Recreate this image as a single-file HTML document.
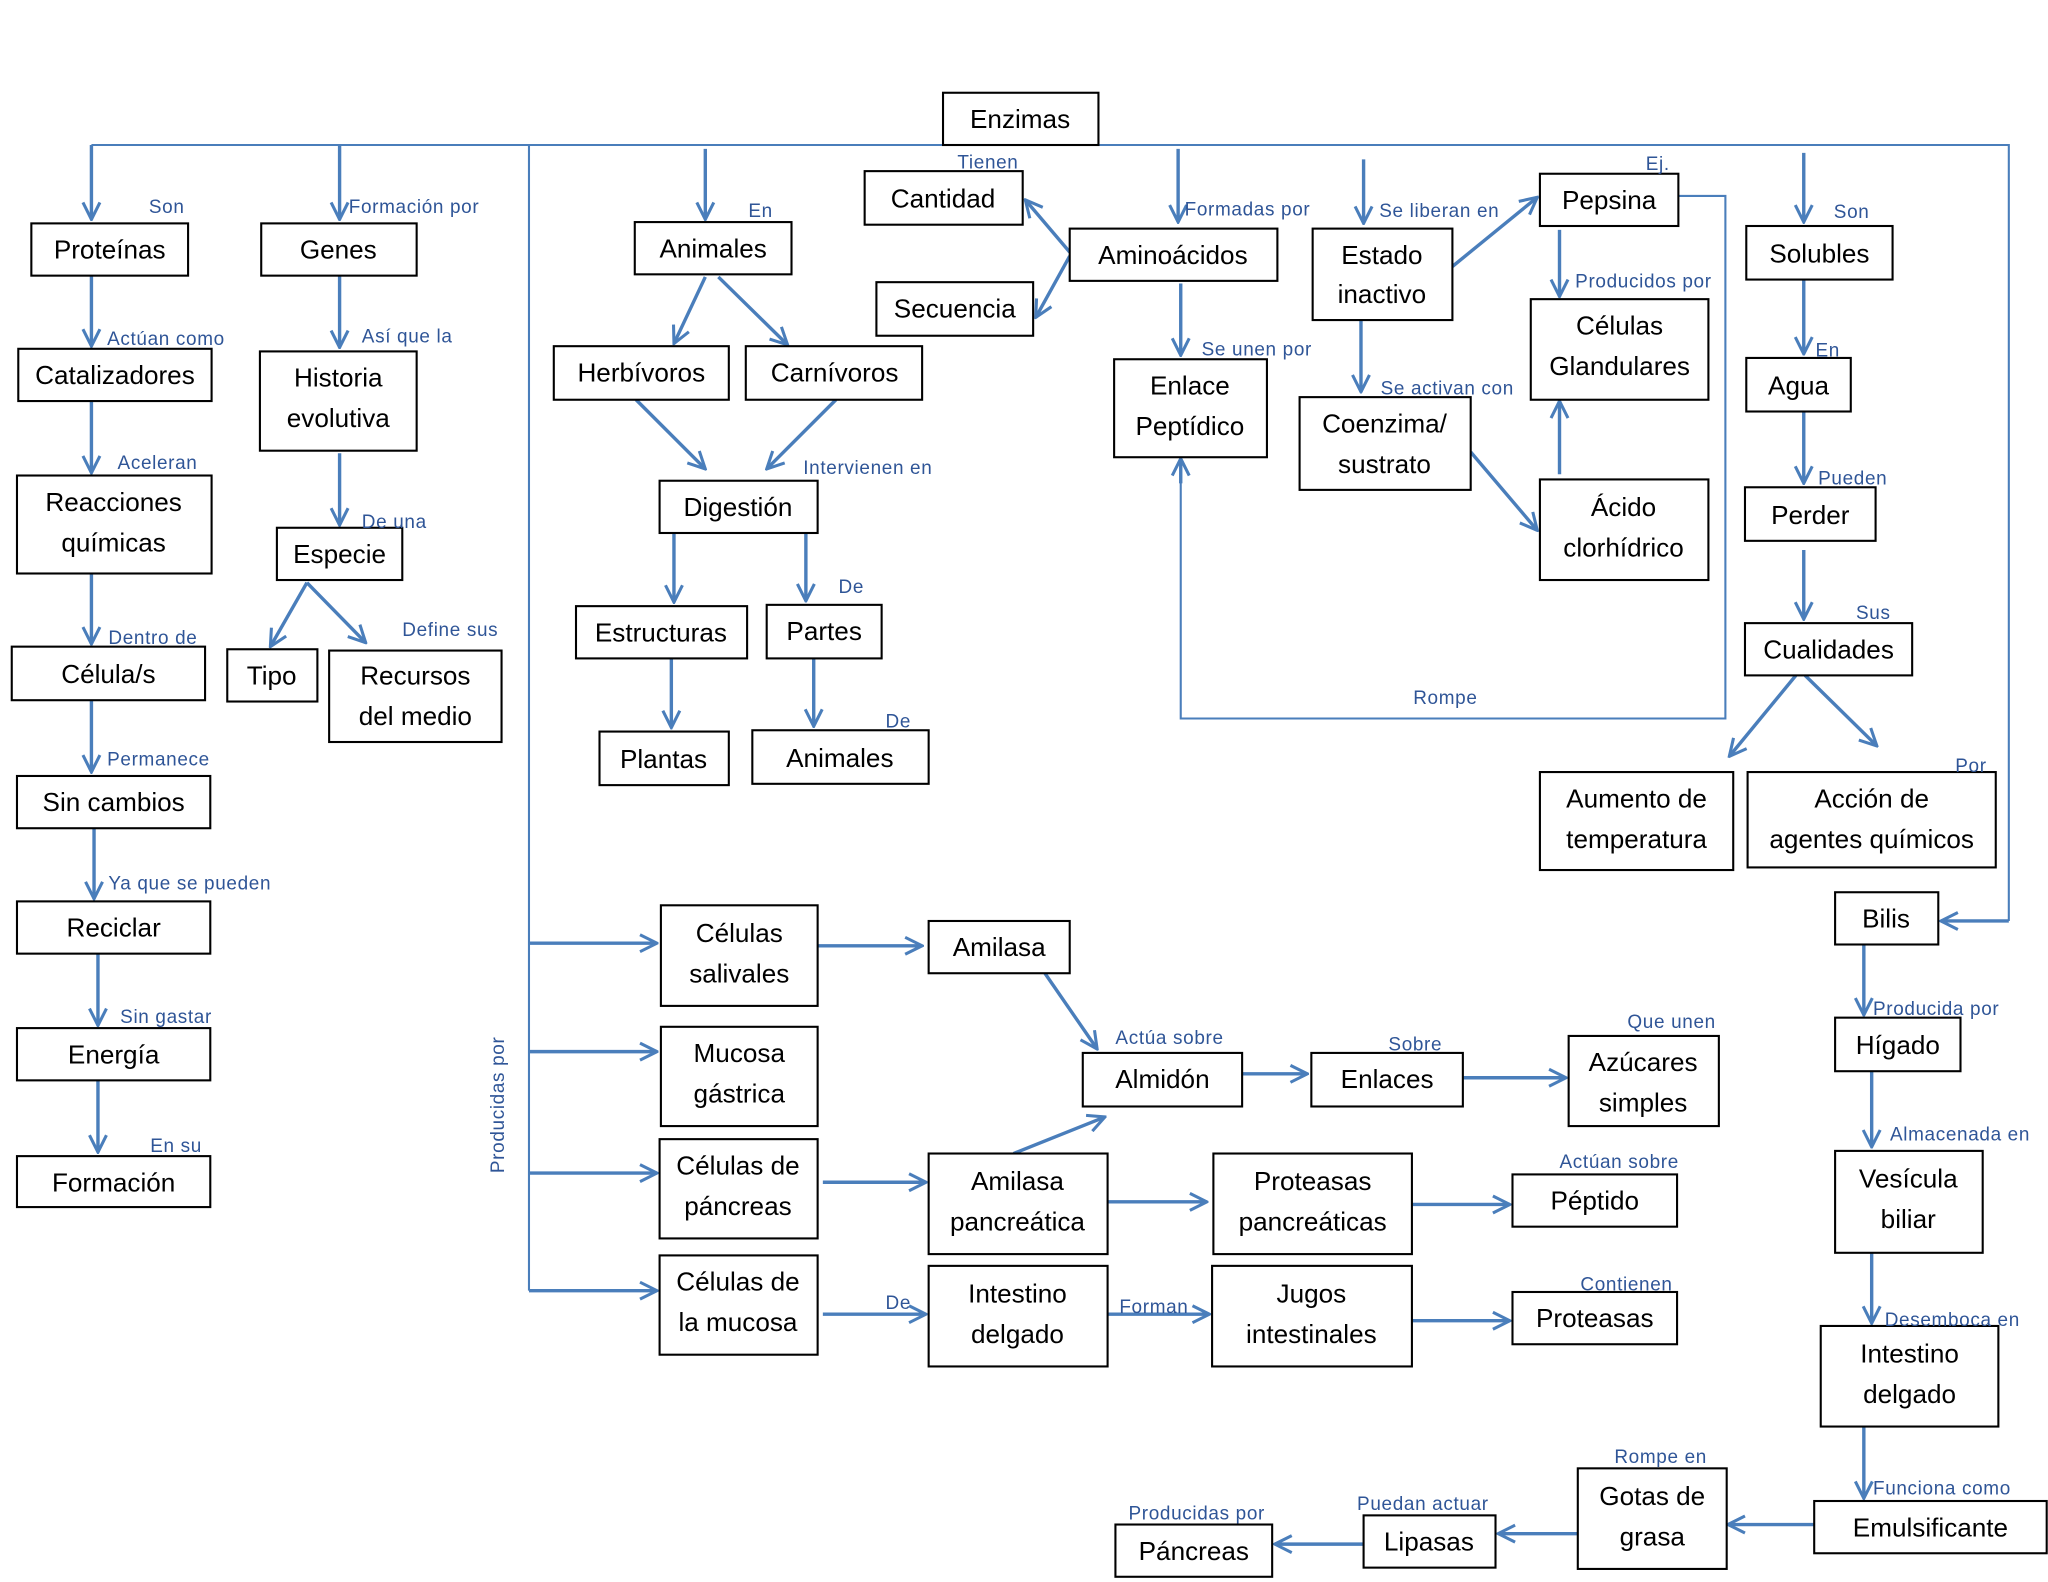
<!DOCTYPE html>
<html><head><meta charset="utf-8"><style>
html,body{margin:0;padding:0;background:#fff;}
svg{display:block;}
.b{fill:#fff;stroke:#000;stroke-width:1.6;}
.t{font-family:"Liberation Sans",sans-serif;font-size:20px;fill:#000;text-anchor:middle;}
.l{font-family:"Liberation Sans",sans-serif;font-size:14.5px;fill:#2f5597;letter-spacing:0.5px;}
.a{stroke:#4a7ebb;stroke-width:2.6;fill:none;marker-end:url(#m);}
.n{stroke:#4a7ebb;stroke-width:1.6;fill:none;}
</style></head><body>
<svg width="2048" height="1582" viewBox="0 0 1568 1211" preserveAspectRatio="none" xmlns="http://www.w3.org/2000/svg">
<defs><marker id="m" viewBox="0 0 12 12" refX="11" refY="6" markerWidth="6" markerHeight="6" orient="auto" markerUnits="strokeWidth"><polyline points="1,1 11,6 1,11" fill="none" stroke="#4a7ebb" stroke-width="1.8"/></marker></defs>

<!-- main lines -->
<polyline class="n" points="70,111 722,111"/>
<polyline class="n" points="841,111 1538,111 1538,705"/>
<line class="a" x1="1538" y1="705" x2="1486" y2="705"/>
<line class="a" x1="70" y1="111" x2="70" y2="168"/>
<line class="a" x1="260" y1="111" x2="260" y2="168"/>
<polyline class="n" points="405,111 405,988"/>
<line class="a" x1="540" y1="114" x2="540" y2="168"/>
<line class="a" x1="902" y1="114" x2="902" y2="170"/>
<line class="a" x1="1044" y1="122" x2="1044" y2="171"/>
<line class="a" x1="1381" y1="117" x2="1381" y2="170"/>

<!-- left column -->
<line class="a" x1="70" y1="211" x2="70" y2="265"/>
<line class="a" x1="260" y1="211" x2="260" y2="266"/>
<line class="a" x1="70" y1="307" x2="70" y2="362"/>
<line class="a" x1="260" y1="347" x2="260" y2="402"/>
<line class="a" x1="70" y1="439" x2="70" y2="493"/>
<line class="a" x1="235" y1="446" x2="207" y2="495"/>
<line class="a" x1="235" y1="446" x2="280" y2="492"/>
<line class="a" x1="70" y1="536" x2="70" y2="591"/>
<line class="a" x1="72" y1="634" x2="72" y2="688"/>
<line class="a" x1="75" y1="730" x2="75" y2="785"/>
<line class="a" x1="75" y1="827" x2="75" y2="882"/>

<!-- animales -->
<line class="a" x1="540" y1="212" x2="516" y2="263"/>
<line class="a" x1="550" y1="212" x2="603" y2="264"/>
<line class="a" x1="487" y1="306" x2="540" y2="359"/>
<line class="a" x1="640" y1="306" x2="587" y2="359"/>
<line class="a" x1="516" y1="408" x2="516" y2="461"/>
<line class="a" x1="617" y1="408" x2="617" y2="460"/>
<line class="a" x1="514" y1="504" x2="514" y2="557"/>
<line class="a" x1="623" y1="504" x2="623" y2="556"/>

<!-- aminoacidos -->
<line class="a" x1="819" y1="193" x2="785" y2="153"/>
<line class="a" x1="819" y1="196" x2="793" y2="243"/>
<line class="a" x1="904" y1="217" x2="904" y2="272"/>
<line class="a" x1="1112" y1="204" x2="1177" y2="151"/>
<line class="a" x1="1042" y1="245" x2="1042" y2="300"/>
<line class="a" x1="1194" y1="176" x2="1194" y2="227"/>
<line class="a" x1="1194" y1="363" x2="1194" y2="307"/>
<line class="a" x1="1126" y1="346" x2="1177" y2="406"/>
<polyline class="n" points="1285,150 1321,150 1321,550 904,550 904,360"/>
<line class="a" x1="904" y1="370" x2="904" y2="351"/>

<!-- right column -->
<line class="a" x1="1381" y1="214" x2="1381" y2="271"/>
<line class="a" x1="1381" y1="315" x2="1381" y2="370"/>
<line class="a" x1="1381" y1="421" x2="1381" y2="474"/>
<line class="a" x1="1375" y1="517" x2="1324" y2="579"/>
<line class="a" x1="1382" y1="517" x2="1437" y2="571"/>
<line class="a" x1="1427" y1="723" x2="1427" y2="777"/>
<line class="a" x1="1433" y1="820" x2="1433" y2="878"/>
<line class="a" x1="1433" y1="959" x2="1433" y2="1013"/>
<line class="a" x1="1427" y1="1092" x2="1427" y2="1147"/>
<line class="a" x1="1389" y1="1167" x2="1323" y2="1167"/>
<line class="a" x1="1208" y1="1174" x2="1147" y2="1174"/>
<line class="a" x1="1044" y1="1182" x2="976" y2="1182"/>

<!-- bottom middle -->
<line class="a" x1="405" y1="722" x2="503" y2="722"/>
<line class="a" x1="405" y1="805" x2="503" y2="805"/>
<line class="a" x1="405" y1="898" x2="503" y2="898"/>
<line class="a" x1="405" y1="988" x2="503" y2="988"/>
<line class="a" x1="626" y1="724" x2="706" y2="724"/>
<line class="a" x1="800" y1="745" x2="840" y2="803"/>
<line class="a" x1="951" y1="822" x2="1001" y2="822"/>
<line class="a" x1="1120" y1="825" x2="1199" y2="825"/>
<line class="a" x1="630" y1="905" x2="709" y2="905"/>
<line class="a" x1="776" y1="883" x2="846" y2="855"/>
<line class="a" x1="848" y1="920" x2="924" y2="920"/>
<line class="a" x1="1081" y1="922" x2="1156" y2="922"/>
<line class="a" x1="630" y1="1006" x2="709" y2="1006"/>
<line class="a" x1="848" y1="1006" x2="926" y2="1006"/>
<line class="a" x1="1081" y1="1011" x2="1156" y2="1011"/>

<!-- boxes -->
<rect class="b" x="722" y="71" width="119" height="40"/><text class="t" x="781" y="98">Enzimas</text>
<rect class="b" x="24" y="171" width="120" height="40"/><text class="t" x="84" y="198">Proteínas</text>
<rect class="b" x="200" y="171" width="119" height="40"/><text class="t" x="259" y="198">Genes</text>
<rect class="b" x="14" y="267" width="148" height="40"/><text class="t" x="88" y="294">Catalizadores</text>
<rect class="b" x="199" y="269" width="120" height="76"/><text class="t" x="259" y="296">Historia</text><text class="t" x="259" y="327">evolutiva</text>
<rect class="b" x="13" y="364" width="149" height="75"/><text class="t" x="87" y="391">Reacciones</text><text class="t" x="87" y="422">químicas</text>
<rect class="b" x="212" y="404" width="96" height="40"/><text class="t" x="260" y="431">Especie</text>
<rect class="b" x="9" y="495" width="148" height="41"/><text class="t" x="83" y="523">Célula/s</text>
<rect class="b" x="174" y="497" width="69" height="40"/><text class="t" x="208" y="524">Tipo</text>
<rect class="b" x="252" y="498" width="132" height="70"/><text class="t" x="318" y="524">Recursos</text><text class="t" x="318" y="555">del medio</text>
<rect class="b" x="13" y="594" width="148" height="40"/><text class="t" x="87" y="621">Sin cambios</text>
<rect class="b" x="13" y="690" width="148" height="40"/><text class="t" x="87" y="717">Reciclar</text>
<rect class="b" x="13" y="787" width="148" height="40"/><text class="t" x="87" y="814">Energía</text>
<rect class="b" x="13" y="885" width="148" height="39"/><text class="t" x="87" y="912">Formación</text>

<rect class="b" x="486" y="170" width="120" height="40"/><text class="t" x="546" y="197">Animales</text>
<rect class="b" x="424" y="265" width="134" height="41"/><text class="t" x="491" y="292">Herbívoros</text>
<rect class="b" x="571" y="265" width="135" height="41"/><text class="t" x="639" y="292">Carnívoros</text>
<rect class="b" x="505" y="368" width="121" height="40"/><text class="t" x="565" y="395">Digestión</text>
<rect class="b" x="441" y="464" width="131" height="40"/><text class="t" x="506" y="491">Estructuras</text>
<rect class="b" x="587" y="463" width="88" height="41"/><text class="t" x="631" y="490">Partes</text>
<rect class="b" x="459" y="560" width="99" height="41"/><text class="t" x="508" y="588">Plantas</text>
<rect class="b" x="576" y="559" width="135" height="41"/><text class="t" x="643" y="587">Animales</text>

<rect class="b" x="662" y="131" width="121" height="41"/><text class="t" x="722" y="159">Cantidad</text>
<rect class="b" x="671" y="216" width="120" height="41"/><text class="t" x="731" y="243">Secuencia</text>
<rect class="b" x="819" y="175" width="159" height="40"/><text class="t" x="898" y="202">Aminoácidos</text>
<rect class="b" x="853" y="275" width="117" height="75"/><text class="t" x="911" y="302">Enlace</text><text class="t" x="911" y="333">Peptídico</text>
<rect class="b" x="1005" y="175" width="107" height="70"/><text class="t" x="1058" y="202">Estado</text><text class="t" x="1058" y="232">inactivo</text>
<rect class="b" x="1179" y="133" width="106" height="40"/><text class="t" x="1232" y="160">Pepsina</text>
<rect class="b" x="995" y="304" width="131" height="71"/><text class="t" x="1060" y="331">Coenzima/</text><text class="t" x="1060" y="362">sustrato</text>
<rect class="b" x="1172" y="229" width="136" height="77"/><text class="t" x="1240" y="256">Células</text><text class="t" x="1240" y="287">Glandulares</text>
<rect class="b" x="1179" y="367" width="129" height="77"/><text class="t" x="1243" y="395">Ácido</text><text class="t" x="1243" y="426">clorhídrico</text>

<rect class="b" x="1337" y="173" width="112" height="41"/><text class="t" x="1393" y="201">Solubles</text>
<rect class="b" x="1337" y="274" width="80" height="41"/><text class="t" x="1377" y="302">Agua</text>
<rect class="b" x="1336" y="373" width="100" height="41"/><text class="t" x="1386" y="401">Perder</text>
<rect class="b" x="1336" y="477" width="128" height="40"/><text class="t" x="1400" y="504">Cualidades</text>
<rect class="b" x="1179" y="591" width="148" height="75"/><text class="t" x="1253" y="618">Aumento de</text><text class="t" x="1253" y="649">temperatura</text>
<rect class="b" x="1338" y="591" width="190" height="73"/><text class="t" x="1433" y="618">Acción de</text><text class="t" x="1433" y="649">agentes químicos</text>
<rect class="b" x="1405" y="683" width="79" height="40"/><text class="t" x="1444" y="710">Bilis</text>
<rect class="b" x="1405" y="779" width="96" height="41"/><text class="t" x="1453" y="807">Hígado</text>
<rect class="b" x="1405" y="881" width="113" height="78"/><text class="t" x="1461" y="909">Vesícula</text><text class="t" x="1461" y="940">biliar</text>
<rect class="b" x="1394" y="1015" width="136" height="77"/><text class="t" x="1462" y="1043">Intestino</text><text class="t" x="1462" y="1074">delgado</text>
<rect class="b" x="1389" y="1149" width="178" height="40"/><text class="t" x="1478" y="1176">Emulsificante</text>
<rect class="b" x="1208" y="1124" width="114" height="77"/><text class="t" x="1265" y="1152">Gotas de</text><text class="t" x="1265" y="1183">grasa</text>
<rect class="b" x="1044" y="1160" width="101" height="40"/><text class="t" x="1094" y="1187">Lipasas</text>
<rect class="b" x="854" y="1167" width="120" height="40"/><text class="t" x="914" y="1194">Páncreas</text>

<rect class="b" x="506" y="693" width="120" height="77"/><text class="t" x="566" y="721">Células</text><text class="t" x="566" y="752">salivales</text>
<rect class="b" x="506" y="786" width="120" height="76"/><text class="t" x="566" y="813">Mucosa</text><text class="t" x="566" y="844">gástrica</text>
<rect class="b" x="505" y="872" width="121" height="76"/><text class="t" x="565" y="899">Células de</text><text class="t" x="565" y="930">páncreas</text>
<rect class="b" x="505" y="961" width="121" height="76"/><text class="t" x="565" y="988">Células de</text><text class="t" x="565" y="1019">la mucosa</text>
<rect class="b" x="711" y="705" width="108" height="40"/><text class="t" x="765" y="732">Amilasa</text>
<rect class="b" x="829" y="806" width="122" height="41"/><text class="t" x="890" y="833">Almidón</text>
<rect class="b" x="1004" y="806" width="116" height="41"/><text class="t" x="1062" y="833">Enlaces</text>
<rect class="b" x="1201" y="793" width="115" height="69"/><text class="t" x="1258" y="820">Azúcares</text><text class="t" x="1258" y="851">simples</text>
<rect class="b" x="711" y="883" width="137" height="77"/><text class="t" x="779" y="911">Amilasa</text><text class="t" x="779" y="942">pancreática</text>
<rect class="b" x="929" y="883" width="152" height="77"/><text class="t" x="1005" y="911">Proteasas</text><text class="t" x="1005" y="942">pancreáticas</text>
<rect class="b" x="1158" y="899" width="126" height="40"/><text class="t" x="1221" y="926">Péptido</text>
<rect class="b" x="711" y="969" width="137" height="77"/><text class="t" x="779" y="997">Intestino</text><text class="t" x="779" y="1028">delgado</text>
<rect class="b" x="928" y="969" width="153" height="77"/><text class="t" x="1004" y="997">Jugos</text><text class="t" x="1004" y="1028">intestinales</text>
<rect class="b" x="1158" y="989" width="126" height="40"/><text class="t" x="1221" y="1016">Proteasas</text>

<!-- labels -->
<text class="l" x="114" y="163">Son</text>
<text class="l" x="267" y="163">Formación por</text>
<text class="l" x="573" y="166">En</text>
<text class="l" x="733" y="129">Tienen</text>
<text class="l" x="907" y="165">Formadas por</text>
<text class="l" x="1056" y="166">Se liberan en</text>
<text class="l" x="1260" y="130">Ej.</text>
<text class="l" x="1404" y="167">Son</text>
<text class="l" x="82" y="264">Actúan como</text>
<text class="l" x="277" y="262">Así que la</text>
<text class="l" x="90" y="359">Aceleran</text>
<text class="l" x="277" y="404">De una</text>
<text class="l" x="83" y="493">Dentro de</text>
<text class="l" x="308" y="487">Define sus</text>
<text class="l" x="82" y="586">Permanece</text>
<text class="l" x="83" y="681">Ya que se pueden</text>
<text class="l" x="92" y="783">Sin gastar</text>
<text class="l" x="115" y="882">En su</text>
<text class="l" x="615" y="363">Intervienen en</text>
<text class="l" x="642" y="454">De</text>
<text class="l" x="678" y="557">De</text>
<text class="l" x="920" y="272">Se unen por</text>
<text class="l" x="1057" y="302">Se activan con</text>
<text class="l" x="1206" y="220">Producidos por</text>
<text class="l" x="1082" y="539">Rompe</text>
<text class="l" x="1390" y="273">En</text>
<text class="l" x="1392" y="371">Pueden</text>
<text class="l" x="1421" y="474">Sus</text>
<text class="l" x="1497" y="591">Por</text>
<text class="l" x="1434" y="777">Producida por</text>
<text class="l" x="1447" y="873">Almacenada en</text>
<text class="l" x="1443" y="1015">Desemboca en</text>
<text class="l" x="1434" y="1144">Funciona como</text>
<text class="l" x="1236" y="1120">Rompe en</text>
<text class="l" x="1039" y="1156">Puedan actuar</text>
<text class="l" x="864" y="1163">Producidas por</text>
<text class="l" x="854" y="799">Actúa sobre</text>
<text class="l" x="1063" y="804">Sobre</text>
<text class="l" x="1246" y="787">Que unen</text>
<text class="l" x="1194" y="894">Actúan sobre</text>
<text class="l" x="1210" y="988">Contienen</text>
<text class="l" x="678" y="1002">De</text>
<text class="l" x="857" y="1005">Forman</text>
<text class="l" transform="translate(386,898) rotate(-90)">Producidas por</text>
</svg>
</body></html>
